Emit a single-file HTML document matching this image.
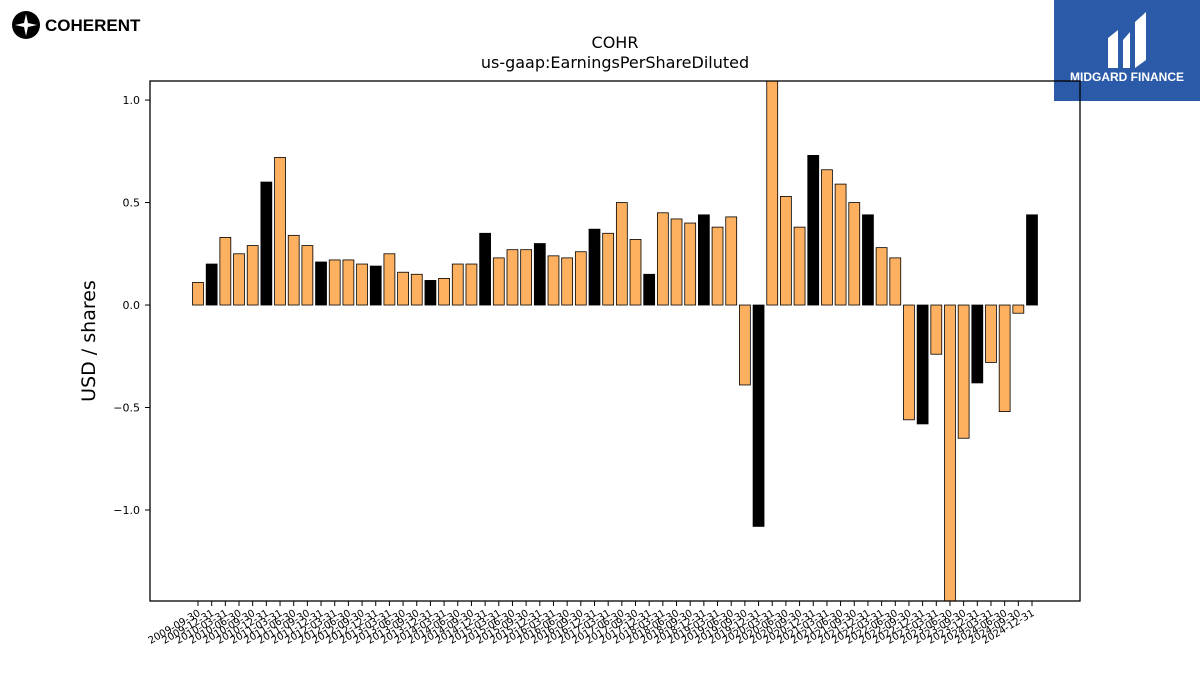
<!DOCTYPE html>
<html><head><meta charset="utf-8"><style>
body{margin:0;background:#fff;font-family:"Liberation Sans","DejaVu Sans",sans-serif}
</style></head><body>
<svg id="chart" width="1200" height="675" xmlns="http://www.w3.org/2000/svg" style="font-family:'DejaVu Sans','Liberation Sans',sans-serif">
<g>
<circle cx="26" cy="25" r="14" fill="#000"/>
<path d="M26 14 L28 23 L37 25 L28 27 L26 36 L24 27 L15 25 L24 23 Z" fill="#fff"/>
<text x="45" y="31" font-size="17" font-weight="bold" font-family="Liberation Sans,sans-serif">COHERENT</text>
</g>
<g>
<rect x="1054" y="0" width="146" height="101" fill="#2b5aa8"/>
<path d="M1108 68 L1108 38 L1118 30 L1118 68 Z M1123 68 L1123 40 L1130 32 L1130 68 Z M1135 68 L1135 22 L1146 12 L1146 60 Z" fill="#fff"/>
<text x="1127" y="81" font-size="12" font-weight="bold" fill="#fff" text-anchor="middle" font-family="Liberation Sans,sans-serif">MIDGARD FINANCE</text>
</g>
<text x="615" y="48" font-size="16" text-anchor="middle">COHR</text>
<text x="615" y="68" font-size="16" text-anchor="middle">us-gaap:EarningsPerShareDiluted</text>
<text transform="translate(95,341) rotate(-90)" font-size="19" text-anchor="middle">USD / shares</text>
<g id="plot"></g>
<rect x="150" y="81" width="930" height="520" fill="none" stroke="#000" stroke-width="1.3"/>
</svg>
<script>
const values=[0.11,0.20,0.33,0.25,0.29,0.60,0.72,0.34,0.29,0.21,0.22,0.22,0.20,0.19,0.25,0.16,0.15,0.12,0.13,0.20,0.20,0.35,0.23,0.27,0.27,0.30,0.24,0.23,0.26,0.37,0.35,0.50,0.32,0.15,0.45,0.42,0.40,0.44,0.38,0.43,-0.39,-1.08,1.25,0.53,0.38,0.73,0.66,0.59,0.50,0.44,0.28,0.23,-0.56,-0.58,-0.24,-1.50,-0.65,-0.38,-0.28,-0.52,-0.04,0.44];
const yTicks=[-1.0,-0.5,0.0,0.5,1.0];
const qEnds=["03-31","06-30","09-30","12-31"];
const labels=[];
for(let i=0;i<values.length;i++){const q=(2+i)%4;const yr=2009+Math.floor((2+i)/4);labels.push(yr+"-"+qEnds[q]);}
const NS="http://www.w3.org/2000/svg";
const g=document.getElementById('plot');
const x0=150,x1=1080,yT=81,yB=601,yMax=1.093,yMin=-1.444;
const y=v=>yT+(yMax-v)/(yMax-yMin)*(yB-yT);
const step=(1032-198)/61;
const x=i=>198+i*step;
function el(t,a){const e=document.createElementNS(NS,t);for(const k in a)e.setAttribute(k,a[k]);g.appendChild(e);return e;}
const clip=el('clipPath',{id:'c'});const cr=document.createElementNS(NS,'rect');
cr.setAttribute('x',x0);cr.setAttribute('y',yT);cr.setAttribute('width',x1-x0);cr.setAttribute('height',yB-yT);clip.appendChild(cr);
values.forEach((v,i)=>{
 const bw=step*0.8;const top=Math.min(y(v),y(0));const h=Math.abs(y(v)-y(0));
 const b=el('rect',{x:x(i)-bw/2,y:top,width:bw,height:h,fill:(i%4==1)?'#000':'#fdb060',stroke:'#000','stroke-width':0.8,'clip-path':'url(#c)'});
 
 
 const t=el('line',{x1:x(i),x2:x(i),y1:yB,y2:yB+5,stroke:'#000'});
 
 
 const l=el('text',{x:0,y:0,'font-size':10,'text-anchor':'end',transform:`translate(${x(i)+3},${yB+14}) rotate(-30)`});
 l.textContent=labels[i];
 
 
});
yTicks.forEach(v=>{
 const t=el('line',{x1:x0-5,x2:x0,y1:y(v),y2:y(v),stroke:'#000'});
 
 
 const l=el('text',{x:x0-10,y:y(v)+4,'font-size':11,'text-anchor':'end'});
 l.textContent=(v<0?'\u2212':'')+Math.abs(v).toFixed(1);
 
 
});
</script>
</body></html>
